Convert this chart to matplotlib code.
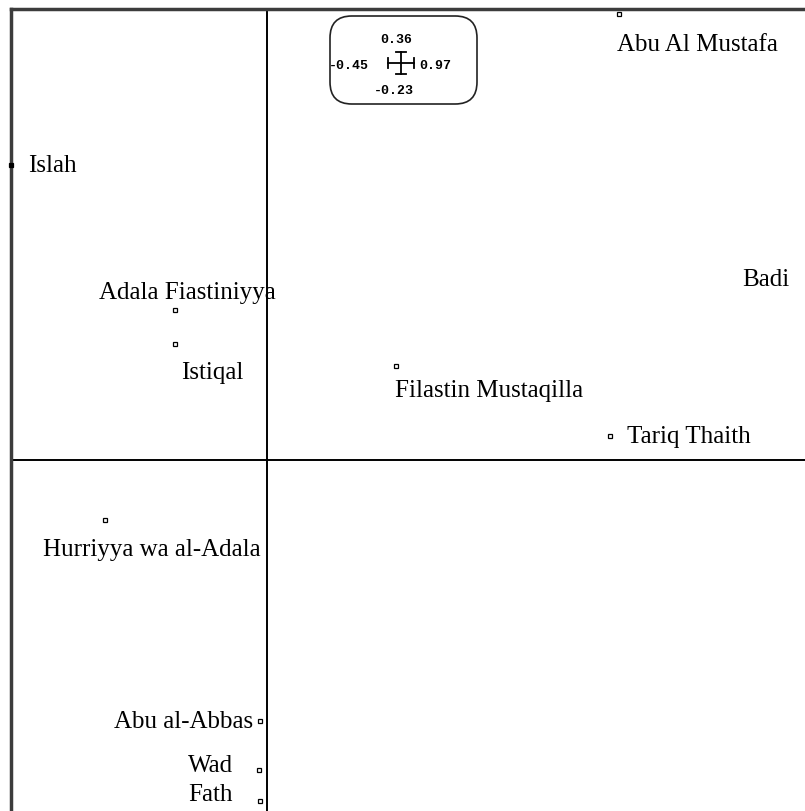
import matplotlib.pyplot as plt
from matplotlib.patches import FancyBboxPatch

# Factor map: party coordinates on the first two axes
labels = ["Islah", "Adala Fiastiniyya", "Istiqal", "Filastin Mustaqilla",
          "Abu Al Mustafa", "Badi", "Tariq Thaith", "Hurriyya wa al-Adala",
          "Abu al-Abbas", "Wad", "Fath"]
x_coord = [-0.450, -0.162, -0.162, 0.227, 0.619, 0.970, 0.603, -0.285,
           -0.012, -0.014, -0.012]
y_coord = [0.518, 0.264, 0.204, 0.165, 0.784, 0.318, 0.042, -0.105,
           -0.459, -0.545, -0.599]

# scale box values
scale_top, scale_left, scale_right, scale_bottom = "0.36", "-0.45", "0.97", "-0.23"

# label placement (pixels offset, alignment)
label_pos = {
    "Islah": (17, 0, "left"),
    "Adala Fiastiniyya": (13, 18, "center"),
    "Istiqal": (6, -28, "left"),
    "Filastin Mustaqilla": (-1, -24, "left"),
    "Abu Al Mustafa": (-2, -30, "left"),
    "Badi": (-29, 0, "right"),
    "Tariq Thaith": (17, 0, "left"),
    "Hurriyya wa al-Adala": (47, -29, "center"),
    "Abu al-Abbas": (-7, 0, "right"),
    "Wad": (-26, 5, "right"),
    "Fath": (-27, 7, "right"),
}

W, H = 805, 812
fig = plt.figure(figsize=(W / 100, H / 100), dpi=100)
fig.patch.set_facecolor("white")

# axes box in pixels: left 11, top 10, runs past right/bottom edges
px = 569.0
ax = fig.add_axes([11 / W, 1 - 830 / H, 819 / W, 820 / H])
ax.set_xlim(-256 / px, 563 / px)
ax.set_ylim(-369 / px, 451 / px)
for side in ("right", "bottom"):
    ax.spines[side].set_visible(False)
for side in ("top", "left"):
    ax.spines[side].set_linewidth(2.5)
    ax.spines[side].set_color("#3c3c3c")
ax.set_xticks([])
ax.set_yticks([])

ax.axhline(0, color="black", lw=1.4)
ax.axvline(0, color="black", lw=1.4)

font = dict(family="Liberation Serif", size=18, color="black")
for lab, xv, yv in zip(labels, x_coord, y_coord):
    fc = "black" if lab == "Islah" else "white"
    ax.plot(xv, yv, "s", ms=3.5, mfc=fc, mec="black", mew=0.9,
            clip_on=False, zorder=5)
    dx, dy, ha = label_pos[lab]
    ax.annotate(lab, (xv, yv), xytext=(dx, dy), textcoords="offset pixels",
                ha=ha, va="center", **font)

# scale legend box (figure pixels from top-left)
def fx(p):
    return p / W

def fy(p):
    return 1 - p / H

box = FancyBboxPatch((fx(330), fy(105)), fx(147), 88 / H,
                     boxstyle="round,pad=0,rounding_size=0.027",
                     transform=fig.transFigure, fc="white", ec="#222222", lw=1.2)
fig.patches.append(box)

cx, cy = 401, 64
lk = dict(color="black", lw=1.3, transform=fig.transFigure)
fig.add_artist(plt.Line2D([fx(cx - 13), fx(cx + 13)], [fy(cy), fy(cy)], **lk))
fig.add_artist(plt.Line2D([fx(cx - 13), fx(cx - 13)], [fy(cy - 5), fy(cy + 5)], **lk))
fig.add_artist(plt.Line2D([fx(cx + 13), fx(cx + 13)], [fy(cy - 5), fy(cy + 5)], **lk))
fig.add_artist(plt.Line2D([fx(cx), fx(cx)], [fy(cy - 11), fy(cy + 11)], **lk))
fig.add_artist(plt.Line2D([fx(cx - 5), fx(cx + 5)], [fy(cy - 11), fy(cy - 11)], **lk))
fig.add_artist(plt.Line2D([fx(cx - 5), fx(cx + 5)], [fy(cy + 11), fy(cy + 11)], **lk))

small = dict(family="Liberation Mono", size=9.5, weight="bold", color="black",
             va="center")
fig.text(fx(396), fy(40), scale_top, ha="center", **small)
fig.text(fx(349), fy(66), scale_left, ha="center", **small)
fig.text(fx(435), fy(66), scale_right, ha="center", **small)
fig.text(fx(394), fy(91), scale_bottom, ha="center", **small)

fig.savefig("out.png", dpi=100, facecolor="white")
